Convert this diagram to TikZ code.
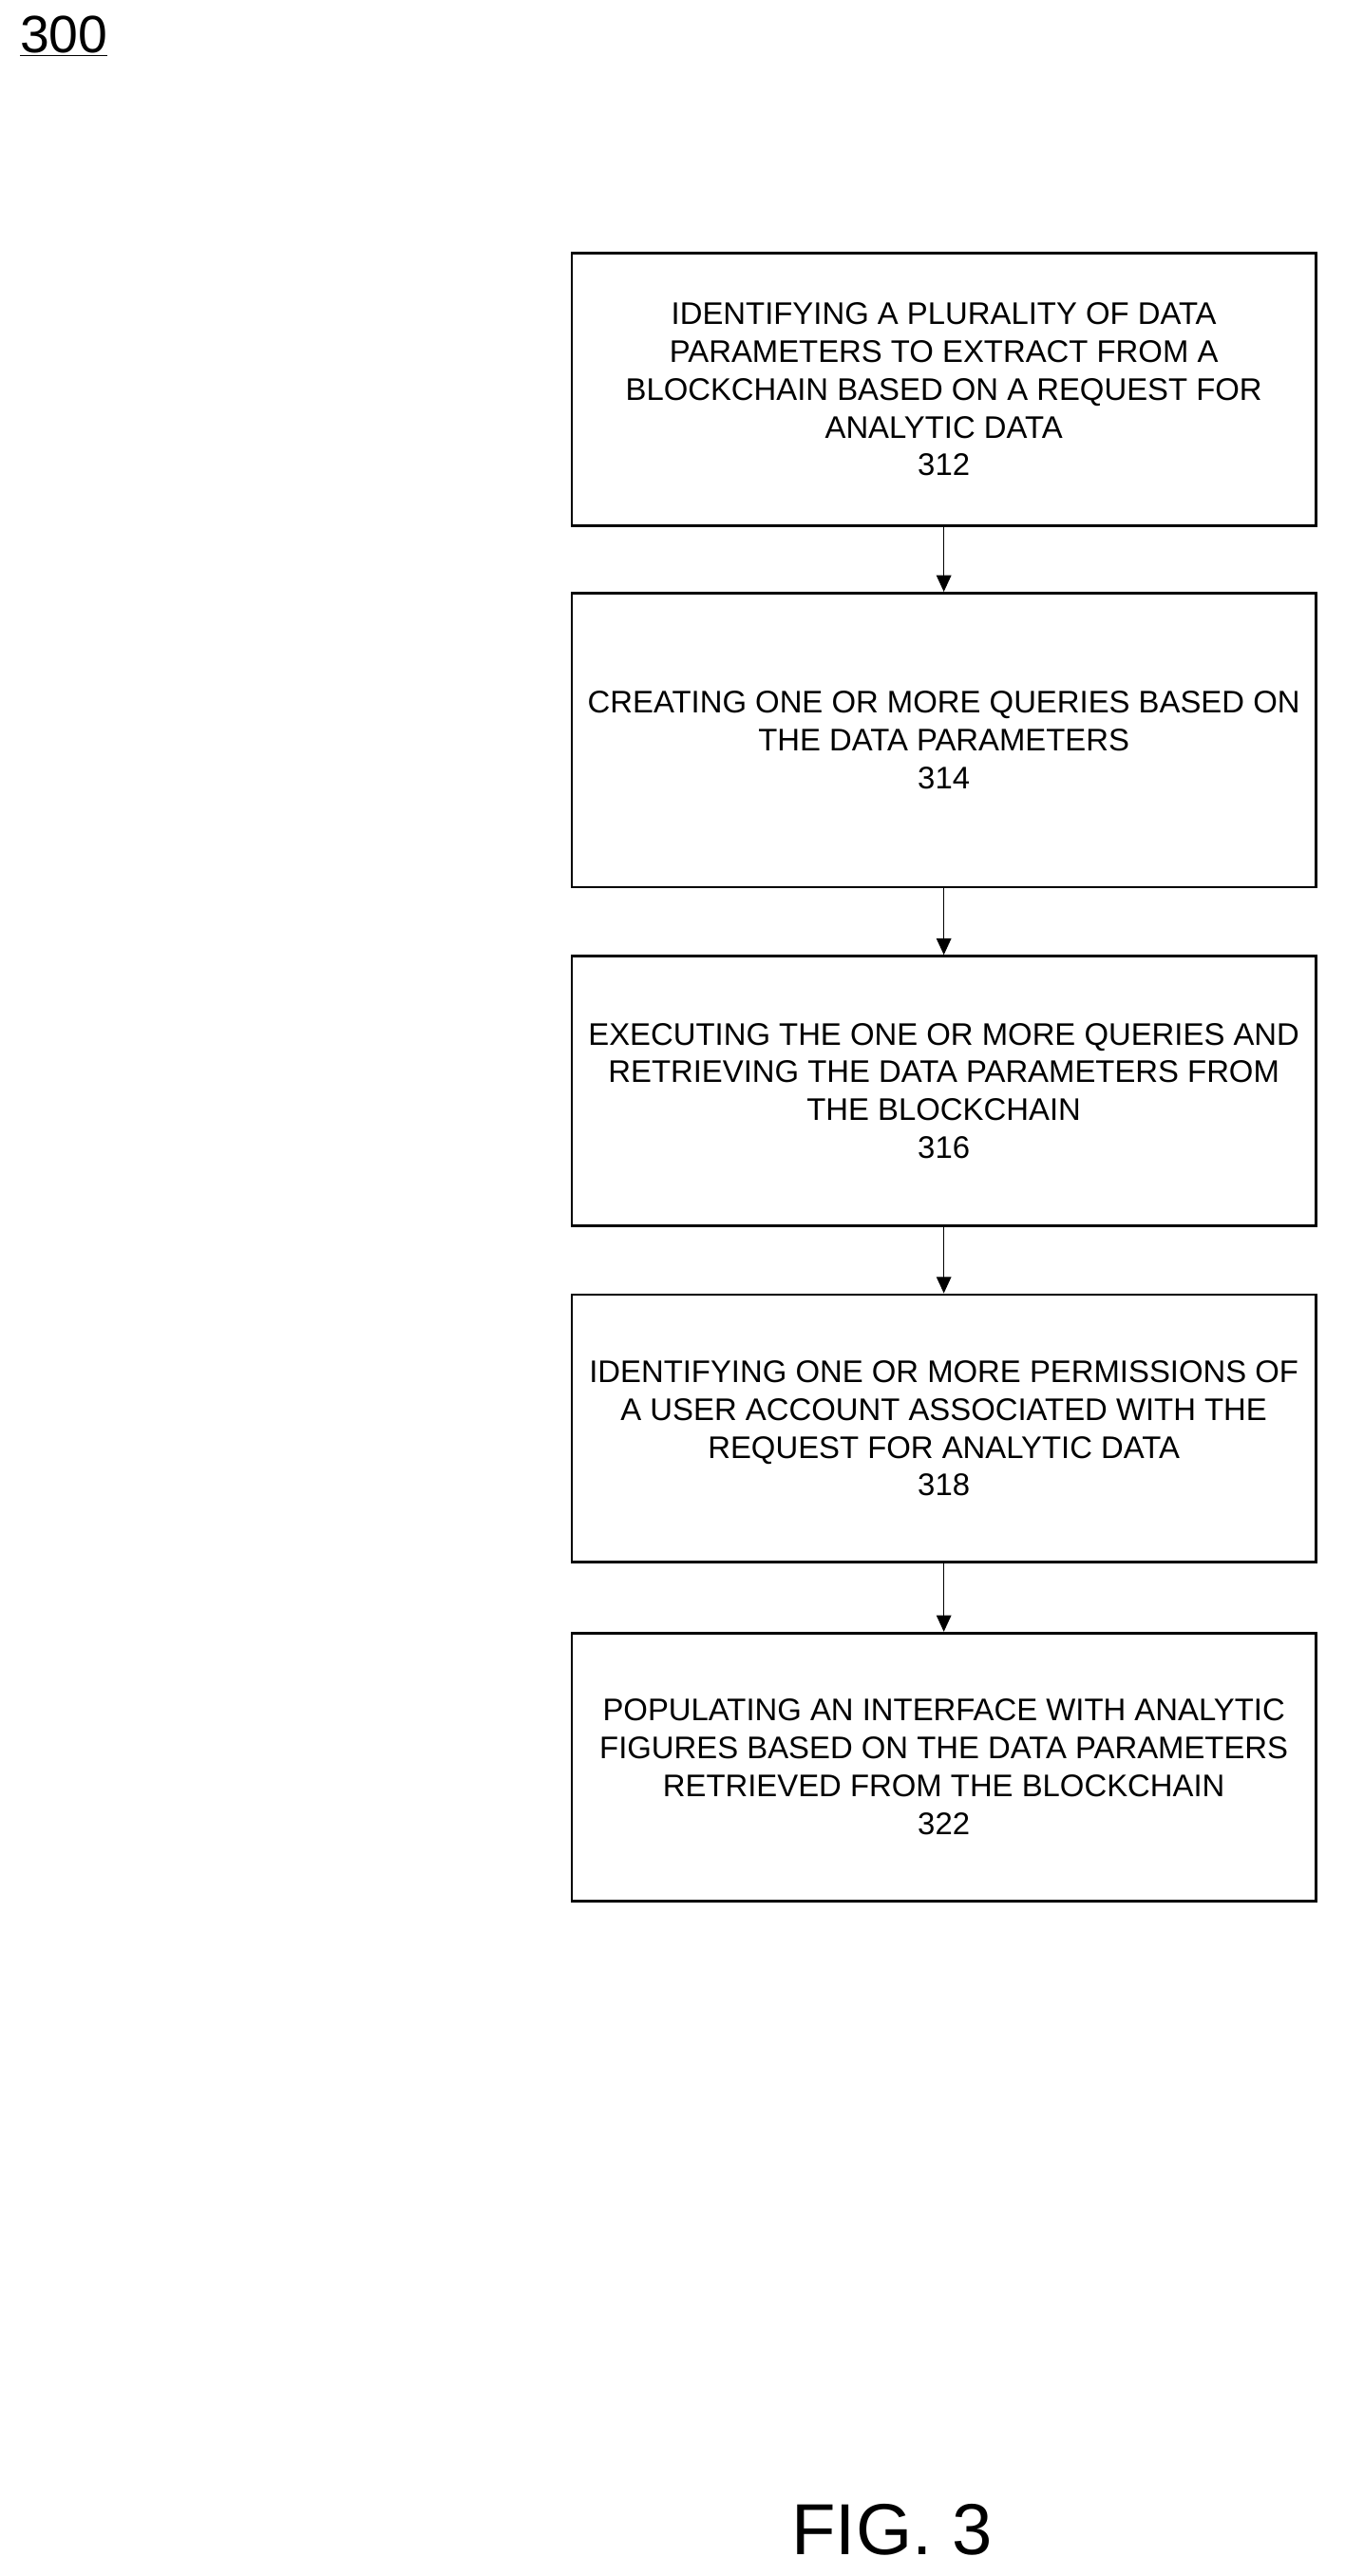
\documentclass[tikz,border=0pt]{standalone}
\usepackage{fontspec}
\setmainfont{Liberation Sans}
\usetikzlibrary{arrows.meta}

\begin{document}
\begin{tikzpicture}
[x=1pt, y=-1pt, every node/.style={inner sep=0pt},
 stepbox/.style={draw=black, line width=1.6pt, minimum width=453pt, align=center, font=\fontsize{19}{23}\selectfont},
 flow/.style={line width=0.8pt, -{Triangle[length=10pt, width=9pt]}}]
\useasboundingbox (0,0) rectangle (830,1568);
\node (label) [anchor=west, font=\fontsize{32}{36}\selectfont] at (12, 22) {\underline{300}};
\node (312) [stepbox, minimum height=166pt] at (574.5, 237) {IDENTIFYING A PLURALITY OF DATA\\PARAMETERS TO EXTRACT FROM A\\BLOCKCHAIN BASED ON A REQUEST FOR\\ANALYTIC DATA\\312};
\node (314) [stepbox, minimum height=179pt] at (574.5, 450.5) {CREATING ONE OR MORE QUERIES BASED ON\\THE DATA PARAMETERS\\314};
\node (316) [stepbox, minimum height=164pt] at (574.5, 664) {EXECUTING THE ONE OR MORE QUERIES AND\\RETRIEVING THE DATA PARAMETERS FROM\\THE BLOCKCHAIN\\316};
\node (318) [stepbox, minimum height=163pt] at (574.5, 869.5) {IDENTIFYING ONE OR MORE PERMISSIONS OF\\A USER ACCOUNT ASSOCIATED WITH THE\\REQUEST FOR ANALYTIC DATA\\318};
\node (322) [stepbox, minimum height=163pt] at (574.5, 1075.5) {POPULATING AN INTERFACE WITH ANALYTIC\\FIGURES BASED ON THE DATA PARAMETERS\\RETRIEVED FROM THE BLOCKCHAIN\\322};
\draw [flow] (312) -- (314);
\draw [flow] (314) -- (316);
\draw [flow] (316) -- (318);
\draw [flow] (318) -- (322);
\node (fig) [font=\fontsize{44}{48}\selectfont] at (543, 1540) {FIG. 3};
\end{tikzpicture}
\end{document}
